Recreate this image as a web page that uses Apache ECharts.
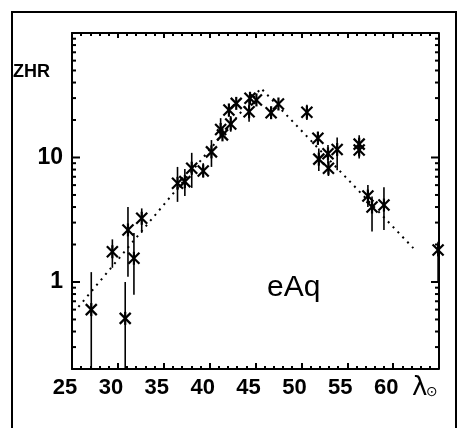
<!DOCTYPE html>
<html>
<head>
<meta charset="utf-8">
<script src="https://cdn.jsdelivr.net/npm/echarts@6/dist/echarts.min.js"></script>
<style>
  html, body { margin: 0; padding: 0; background: #fff; }
  #chart { width: 459px; height: 428px; }
</style>
</head>
<body>
<div id="chart"></div>
<script>
// eAq ZHR vs solar longitude, log scale
var chart = echarts.init(document.getElementById('chart'));

// data points: solar longitude, ZHR, error bar low/high (null = no bar)
var lam = [27.1, 29.4, 31.1, 30.8, 31.75, 32.6, 36.5, 37.3, 38.05, 39.3, 40.2, 41.2, 41.4, 42.1, 42.3, 42.9,
           44.4, 44.3, 45.1, 46.7, 47.5, 50.6, 51.8, 51.9, 52.9, 52.95, 53.9, 56.3, 56.3, 57.25, 57.7, 59.0, 64.9];
var zhr = [0.60, 1.75, 2.62, 0.51, 1.55, 3.25, 6.2, 6.4, 8.2, 7.8, 11.1, 16.8, 15.2, 24.1, 18.6, 27.2,
           29.9, 23.3, 29.0, 22.9, 26.9, 23.1, 14.3, 9.7, 10.7, 8.2, 11.6, 12.8, 11.5, 4.9, 4.0, 4.15, 1.81];
var errLo = [0.2, 1.3, 1.1, 0.2, 0.79, 2.48, 4.4, 4.9, 5.7, 6.9, 8.4, 14.3, null, 21.2, 16.1, null,
             null, 19.4, null, null, null, 20.0, 12.6, 7.8, 9.0, 7.1, 7.9, null, 9.8, 4.0, 2.54, 2.62, 1.0];
var errHi = [1.2, 2.2, 4.0, 1.0, 2.48, 3.9, 8.4, 8.1, 10.9, 9.0, 13.8, 20.7, null, 26.4, 21.5, null,
             null, 29.0, null, null, null, 26.5, 16.1, 11.8, 12.6, 9.3, 14.5, null, 15.1, 6.0, 4.85, 5.76, 2.1];

// dotted fit line
var fitX = [25.7, 45.6, 62.2];
var fitY = [0.63, 36, 1.87];

// axis ticks
var xMin = 25, xMax = 65;
var yMin = 0.2, yMax = 100;
var yMajor = [1, 10, 100];
var yMinor = [0.3, 0.4, 0.5, 0.6, 0.7, 0.8, 0.9, 2, 3, 4, 5, 6, 7, 8, 9, 20, 30, 40, 50, 60, 70, 80, 90];
var yLabels = [1, 10];

var pts = lam.map(function (x, i) { return [x, zhr[i], errLo[i], errHi[i]]; });
var ticks = yMajor.map(function (v) { return [xMin, v, 1]; })
  .concat(yMinor.map(function (v) { return [xMin, v, 0]; }));

function renderStar(params, api) {
  var c = api.coord([api.value(0), api.value(1)]);
  var st = { stroke: '#000', lineWidth: 2.2 };
  var kids = [];
  var lo = api.value(2), hi = api.value(3);
  if (!isNaN(lo) && !isNaN(hi) && lo !== null) {
    var a = api.coord([api.value(0), lo]);
    var b = api.coord([api.value(0), hi]);
    kids.push({ type: 'line', shape: { x1: c[0], y1: a[1], x2: c[0], y2: b[1] }, style: { stroke: '#000', lineWidth: 1.6 } });
  }
  var r = 5.5;
  kids.push({ type: 'line', shape: { x1: c[0] - r, y1: c[1] - r, x2: c[0] + r, y2: c[1] + r }, style: st });
  kids.push({ type: 'line', shape: { x1: c[0] - r, y1: c[1] + r, x2: c[0] + r, y2: c[1] - r }, style: st });
  kids.push({ type: 'line', shape: { x1: c[0], y1: c[1] - 6.5, x2: c[0], y2: c[1] + 6.5 }, style: st });
  return { type: 'group', children: kids };
}

function renderTick(params, api) {
  var v = api.value(1);
  var len = api.value(2) ? 8 : 4;
  var l = api.coord([xMin, v]);
  var r = api.coord([xMax, v]);
  var st = { stroke: '#000', lineWidth: 2 };
  return {
    type: 'group', children: [
      { type: 'line', shape: { x1: l[0], y1: l[1], x2: l[0] + len, y2: l[1] }, style: st },
      { type: 'line', shape: { x1: r[0], y1: r[1], x2: r[0] - len, y2: r[1] }, style: st }
    ]
  };
}

var xAxisBase = {
  type: 'value',
  min: xMin,
  max: xMax,
  interval: 5,
  splitLine: { show: false },
  axisLine: { show: true, lineStyle: { color: '#000', width: 2 } },
  axisTick: { show: true, inside: true, length: 6, lineStyle: { color: '#000', width: 2 } },
  minorTick: { show: true, splitNumber: 5, length: 3, lineStyle: { color: '#000', width: 2 } }
};

var option = {
  animation: false,
  backgroundColor: '#fff',
  grid: { left: 72, right: 20, top: 33, bottom: 59, show: false },
  xAxis: [
    Object.assign({}, xAxisBase, {
      position: 'bottom',
      axisLabel: {
        color: '#000', fontFamily: 'Liberation Sans', fontWeight: 'bold', fontSize: 22,
        margin: 8, padding: [0, 14, 0, 0],
        formatter: function (v) { return v >= xMax ? '' : String(v); }
      }
    }),
    Object.assign({}, xAxisBase, {
      position: 'top',
      axisTick: { show: true, inside: true, length: 5, lineStyle: { color: '#000', width: 2 } },
      axisLabel: { show: false }
    })
  ],
  yAxis: {
    type: 'log',
    logBase: 10,
    min: yMin,
    max: yMax,
    splitLine: { show: false },
    axisLine: { show: true, lineStyle: { color: '#000', width: 2 } },
    axisTick: { show: false },
    minorTick: { show: false },
    axisLabel: {
      color: '#000', fontFamily: 'Liberation Sans', fontWeight: 'bold', fontSize: 23, margin: 9,
      formatter: function (v) {
        for (var i = 0; i < yLabels.length; i++) {
          if (Math.abs(v - yLabels[i]) < 1e-6) return String(yLabels[i]);
        }
        return '';
      }
    }
  },
  graphic: [
    { type: 'rect', shape: { x: 12, y: 12, width: 444, height: 440 }, style: { fill: 'none', stroke: '#000', lineWidth: 2 }, silent: true },
    { type: 'line', shape: { x1: 439, y1: 33, x2: 439, y2: 369 }, style: { stroke: '#000', lineWidth: 2 }, silent: true },
    { type: 'text', left: 13, top: 63, style: { text: 'ZHR', fill: '#000', font: 'bold 18px "Liberation Sans"' } },
    { type: 'text', left: 267, top: 273, style: { text: 'eAq', fill: '#000', font: '30px "Liberation Sans"' } },
    { type: 'text', left: 412, top: 375, style: { text: 'λ', fill: '#000', font: '26px "DejaVu Sans"' } },
    { type: 'text', left: 426, top: 385, style: { text: '⊙', fill: '#000', font: '14px "DejaVu Sans"' } }
  ],
  series: [
    {
      type: 'line',
      data: fitX.map(function (x, i) { return [x, fitY[i]]; }),
      showSymbol: false,
      lineStyle: { color: '#000', width: 2, type: [2, 5] },
      z: 2
    },
    {
      type: 'custom',
      data: ticks,
      renderItem: renderTick,
      z: 3
    },
    {
      type: 'custom',
      data: pts,
      renderItem: renderStar,
      z: 4
    }
  ]
};

chart.setOption(option);
window.addEventListener('resize', function () { chart.resize(); });
</script>
</body>
</html>
